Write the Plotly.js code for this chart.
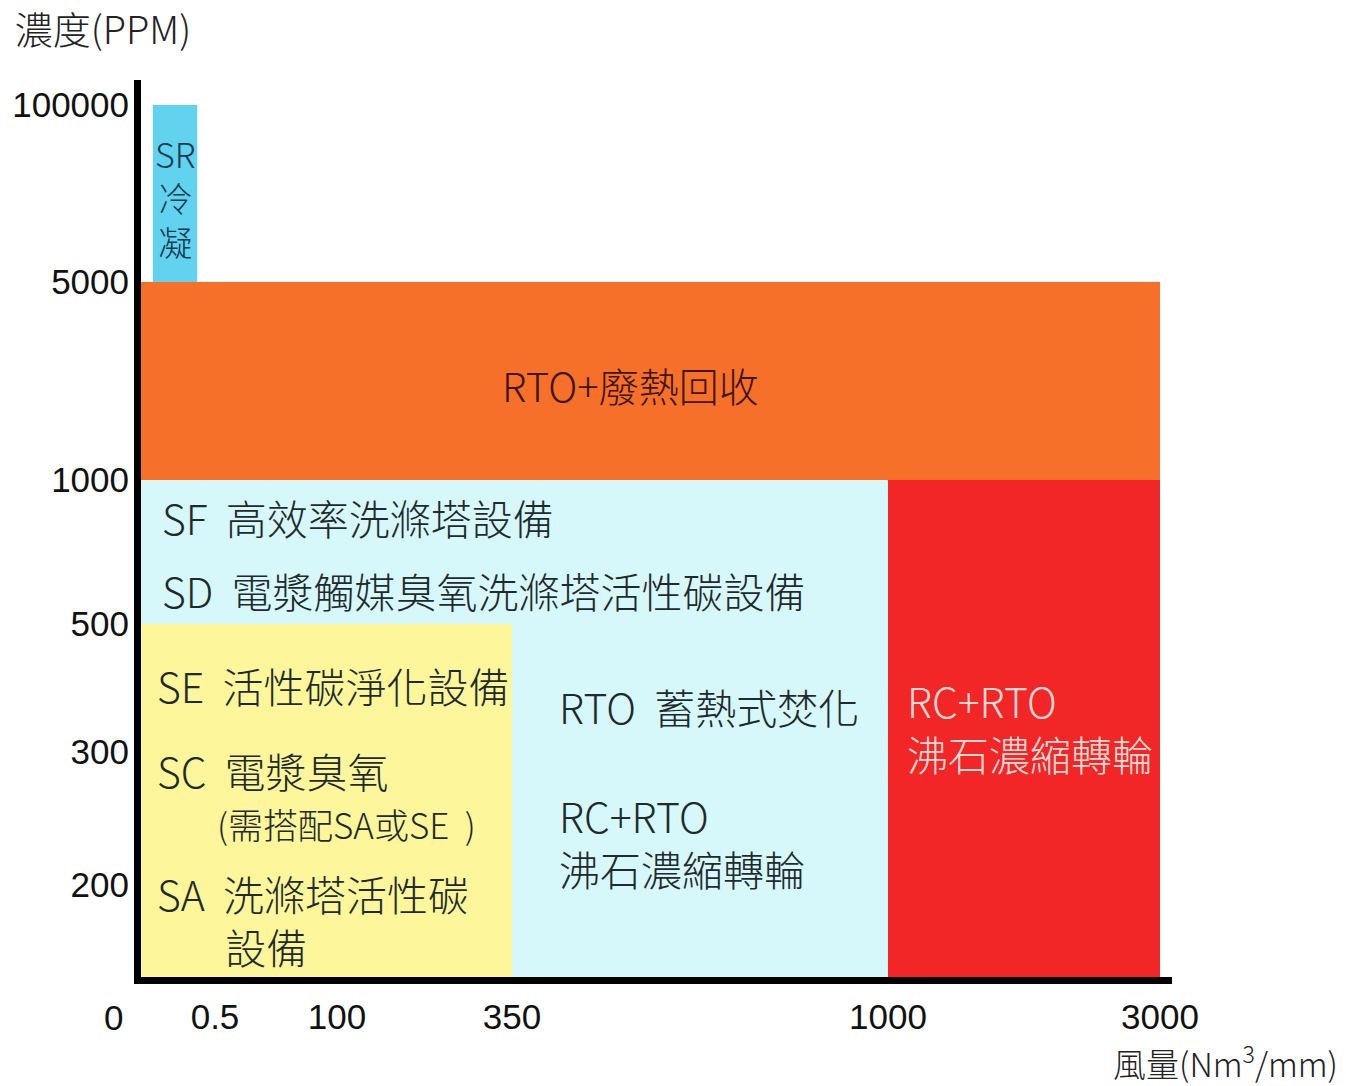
<!DOCTYPE html>
<html><head><meta charset="utf-8">
<script src="https://cdn.plot.ly/plotly-3.0.1.min.js"></script>
<style>html,body{margin:0;padding:0;background:#fff;}#chart{width:1346px;height:1086px;}</style>
</head><body><div id="chart"></div>
<script>
// ---- data ----
const xTickValues = [0, 0.5, 100, 350, 1000, 3000];
const xTickLabels = ['0', '0.5', '100', '350', '1000', '3000'];
const yTickValues = [0, 200, 300, 500, 1000, 5000, 100000];
const yTickLabels = ['0', '200', '300', '500', '1000', '5000', '100000'];

const regionNames = ['RTO蓄熱式焚化區', 'SE/SC/SA區', 'RC+RTO區', 'RTO+廢熱回收區', 'SR冷凝區'];
const regionX0 = [0, 0, 1000, 0, 0.08];
const regionX1 = [1000, 350, 3000, 3000, 0.38];
const regionY0 = [0, 0, 0, 1000, 5000];
const regionY1 = [1000, 500, 1000, 5000, 100000];

const labelTexts = [
  'SR<br>冷<br>凝',
  'RTO+廢熱回收',
  'SF  高效率洗滌塔設備',
  'SD  電漿觸媒臭氧洗滌塔活性碳設備',
  'SE  活性碳淨化設備',
  'SC  電漿臭氧',
  '(需搭配SA或SE  )',
  'SA  洗滌塔活性碳<br>\u3000   設備',
  'RTO  蓄熱式焚化',
  'RC+RTO<br>沸石濃縮轉輪',
  'RC+RTO<br>沸石濃縮轉輪'
];
const yTitle = '濃度(PPM)';
const xTitle = '風量(Nm<sup>3</sup>/mm)';

// ---- layout (non-linear axis slots, pixel-like units) ----
const xSlots = [0, 74, 196, 371, 747, 1019];
const ySlots = [0, 92, 225, 353, 497, 695, 872];
function interp(v, vals, slots) {
  for (let i = 0; i < vals.length - 1; i++) {
    if (v <= vals[i + 1]) {
      const t = (v - vals[i]) / (vals[i + 1] - vals[i]);
      return slots[i] + t * (slots[i + 1] - slots[i]);
    }
  }
  return slots[slots.length - 1];
}
const xs = v => interp(v, xTickValues, xSlots);
const ys = v => interp(v, yTickValues, ySlots);

const regionColors = ['#d6f8fa', '#fdf69a', '#f22626', '#f7702a', '#62d3ee'];

const traces = regionNames.map((n, i) => {
  const a = xs(regionX0[i]), b = xs(regionX1[i]), c = ys(regionY0[i]), d = ys(regionY1[i]);
  return {
    type: 'scatter', mode: 'lines', name: n,
    x: [a, b, b, a, a], y: [c, c, d, d, c],
    fill: 'toself', fillcolor: regionColors[i],
    line: {width: 0, color: regionColors[i]}, hoverinfo: 'skip'
  };
});

const FAM = '"Noto Sans CJK TC", "Noto Sans", sans-serif';
const NUM = '"Liberation Sans", Arial, sans-serif';
const dark = '#1f2a2c';
// label placement: [x px, y px center, size, color, xanchor]
const labelPos = [
  [175, 197, 34, '#103a52', 'center'],
  [630, 385, 40, '#3d1505', 'center'],
  [160, 517, 41, dark, 'left'],
  [160, 590, 41, dark, 'left'],
  [155, 685, 41, dark, 'left'],
  [155, 770, 41, dark, 'left'],
  [215, 823, 35, dark, 'left'],
  [155, 919, 41, dark, 'left'],
  [557, 706, 41, dark, 'left'],
  [557, 841, 41, dark, 'left'],
  [905, 726, 41, '#f8dcd6', 'left']
];
const annotations = labelTexts.map((t, i) => {
  const p = labelPos[i];
  return {
    text: t, xref: 'x', yref: 'y', x: p[0] - 141, y: 977 - p[1],
    xanchor: p[4], yanchor: 'middle', align: p[4] === 'left' ? 'left' : 'center',
    showarrow: false,
    font: {family: FAM, size: p[2], color: p[3], weight: 300}
  };
});
// origin "0" label
annotations.push({
  text: xTickLabels[0], xref: 'x', yref: 'y', x: xs(xTickValues[0]), y: ys(yTickValues[0]),
  xshift: -28, yshift: -40, showarrow: false, xanchor: 'center', yanchor: 'middle',
  font: {family: NUM, size: 35, color: '#111'}
});
// x axis title
annotations.push({
  text: xTitle, xref: 'paper', yref: 'paper', x: 1, y: 0, xshift: 168, yshift: -84,
  xanchor: 'right', yanchor: 'middle', showarrow: false,
  font: {family: FAM, size: 33, color: '#222', weight: 300}
});

const layout = {
  width: 1346, height: 1086,
  margin: {l: 141, r: 174, t: 80, b: 109, pad: 0},
  paper_bgcolor: '#fff', plot_bgcolor: '#fff',
  showlegend: false, hovermode: false,
  title: {text: yTitle, x: 0.011, xanchor: 'left', y: 0.972, yanchor: 'middle',
          font: {family: FAM, size: 38, color: '#222', weight: 300}},
  xaxis: {
    range: [0, 1031], showgrid: false, zeroline: false, fixedrange: true,
    showline: true, linecolor: '#000', linewidth: 7,
    tickmode: 'array', tickvals: xTickValues.slice(1).map(xs), ticktext: xTickLabels.slice(1),
    ticks: '', ticklabelstandoff: 3,
    tickfont: {family: NUM, size: 35, color: '#111'}
  },
  yaxis: {
    range: [0, 897], showgrid: false, zeroline: false, fixedrange: true,
    showline: true, linecolor: '#000', linewidth: 7,
    tickmode: 'array', tickvals: yTickValues.slice(1).map(ys), ticktext: yTickLabels.slice(1),
    ticks: '', ticklabelstandoff: -2,
    tickfont: {family: NUM, size: 35, color: '#111'}
  },
  annotations: annotations
};

Plotly.newPlot('chart', traces, layout, {staticPlot: true, displayModeBar: false});
</script>
</body></html>
